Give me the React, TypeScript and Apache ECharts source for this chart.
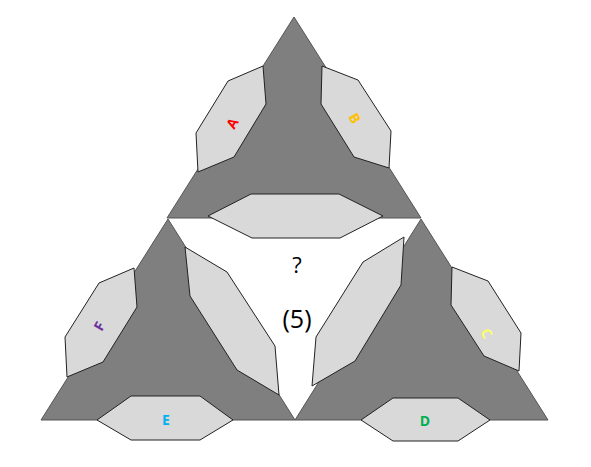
import * as echarts from "echarts";
import { useEffect, useRef } from "react";

type Pt = [number, number];

const triangles: Pt[][] = [
  [[294, 17], [167, 218], [421, 218]],
  [[168, 219], [41, 420], [295, 420]],
  [[421, 219], [295, 420], [548, 420]],
];

const panels: Pt[][] = [
  [[198, 172], [196, 133], [228, 81], [263, 66], [266, 104], [234, 157]],
  [[322, 66], [358, 80], [391, 131], [389, 168], [354, 157], [321, 104]],
  [[208, 216], [251, 194], [339, 194], [383, 216], [340, 238], [252, 238]],
  [[67, 377], [65, 337], [99, 283], [134, 268], [137, 307], [103, 362]],
  [[185, 247], [227, 272], [275, 346], [279, 395], [237, 370], [190, 296]],
  [[97, 420], [131, 396], [200, 396], [233, 420], [200, 440], [131, 440]],
  [[404, 237], [401, 285], [355, 361], [312, 386], [316, 337], [363, 262]],
  [[452, 267], [488, 281], [521, 333], [519, 371], [484, 356], [451, 305]],
  [[361, 420], [393, 398], [458, 398], [490, 420], [458, 441], [393, 441]],
];

const letters = ["A", "B", "C", "D", "E", "F"];
const letterColors = ["#ff0000", "#ffc000", "#ffff66", "#00b050", "#00b0f0", "#7030a0"];
const letterPos: Pt[] = [[232, 123], [355, 118], [487, 333], [425, 420], [166, 419], [99, 326]];
const letterRot = [Math.PI / 3, -Math.PI / 3, -Math.PI / 3, 0, 0, Math.PI / 3];

export default function App() {
  const ref = useRef<HTMLDivElement>(null);

  useEffect(() => {
    document.body.style.margin = "0";
    const chart = echarts.init(ref.current, null, { renderer: "svg" });
    const elements: any[] = [];
    triangles.forEach((t) =>
      elements.push({
        type: "polygon",
        shape: { points: t },
        style: { fill: "#7f7f7f", stroke: "#555", lineWidth: 1 },
      })
    );
    panels.forEach((p) =>
      elements.push({
        type: "polygon",
        shape: { points: p },
        style: { fill: "#d9d9d9", stroke: "#222", lineWidth: 1 },
      })
    );
    letters.forEach((l, i) =>
      elements.push({
        type: "text",
        x: letterPos[i][0],
        y: letterPos[i][1],
        rotation: letterRot[i],
        style: {
          text: l,
          fill: letterColors[i],
          font: "bold 14px 'Open Sans'",
          align: "center",
          verticalAlign: "middle",
        },
      })
    );
    elements.push({
      type: "text",
      x: 297,
      y: 264,
      style: { text: "?", fill: "#000", font: "22px 'Open Sans'", align: "center", verticalAlign: "middle" },
    });
    elements.push({
      type: "text",
      x: 297,
      y: 318,
      style: { text: "(5)", fill: "#000", font: "25px 'Open Sans'", align: "center", verticalAlign: "middle" },
    });
    chart.setOption({ animation: false, graphic: { elements } });
    return () => chart.dispose();
  }, []);

  return <div ref={ref} style={{ width: 591, height: 467, background: "#fff" }} />;
}
